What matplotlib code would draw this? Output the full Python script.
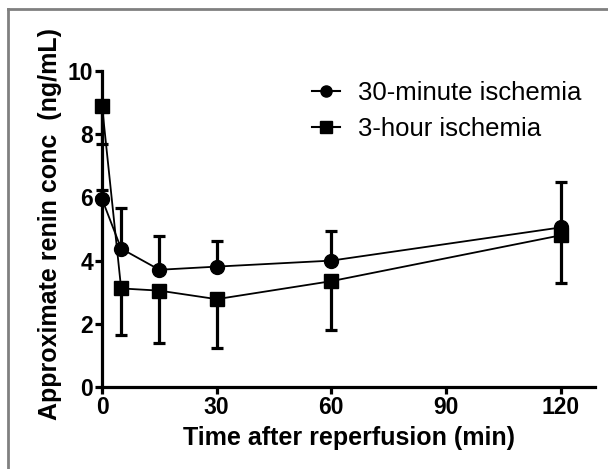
import numpy as np
import matplotlib
matplotlib.use("Agg")
import matplotlib.pyplot as plt
from matplotlib.lines import Line2D

plt.rcParams['font.family'] = ['Liberation Sans', 'DejaVu Sans']

# data
time_min = [0, 5, 15, 30, 60, 120]
ischemia_30min = [5.95, 4.38, 3.71, 3.81, 4.0, 5.05]
ischemia_30min_up = [0.3, 1.27, 1.07, 0.8, 0.95, 1.45]   # upper error only
ischemia_3h = [8.9, 3.12, 3.05, 2.78, 3.35, 4.8]
ischemia_3h_low = [1.2, 1.47, 1.65, 1.54, 1.55, 1.5]      # lower error only
xticks = [0, 30, 60, 90, 120]
yticks = [0, 2, 4, 6, 8, 10]

fig = plt.figure(figsize=(6.08, 4.69), dpi=100)
ax = fig.add_axes([0.1678, 0.1748, 0.8109, 0.6738])

# circles: upper error bars
ax.errorbar(time_min, ischemia_30min,
            yerr=[np.zeros(len(ischemia_30min_up)), ischemia_30min_up],
            fmt='-o', color='black', ms=10, lw=1.3, elinewidth=2.3,
            capsize=4, capthick=2.3, clip_on=False, zorder=3,
            label='30-minute ischemia')
# squares: lower error bars
ax.errorbar(time_min, ischemia_3h,
            yerr=[ischemia_3h_low, np.zeros(len(ischemia_3h_low))],
            fmt='-s', color='black', ms=10, lw=1.3, elinewidth=2.3,
            capsize=4, capthick=2.3, clip_on=False, zorder=3,
            label='3-hour ischemia')

ax.set_xlim(0, 129)
ax.set_ylim(0, 10)
ax.set_xticks(xticks)
ax.set_yticks(yticks)
for s in ['top', 'right']:
    ax.spines[s].set_visible(False)
for s in ['left', 'bottom']:
    ax.spines[s].set_linewidth(2.3)
ax.tick_params(width=2.3, length=5, labelsize=16.5, pad=1.5)
for lbl in ax.get_xticklabels() + ax.get_yticklabels():
    lbl.set_fontweight('bold')

ax.set_xlabel('Time after reperfusion (min)', fontsize=18, fontweight='bold', labelpad=5)
ax.set_ylabel('Approximate renin conc  (ng/mL)', fontsize=18, fontweight='bold')
ax.yaxis.set_label_coords(-0.082, 0.515)

handles = [Line2D([0], [0], color='black', marker='o', ms=8, lw=1.5),
           Line2D([0], [0], color='black', marker='s', ms=8, lw=1.5)]
ax.legend(handles, ['30-minute ischemia', '3-hour ischemia'], loc='upper left',
          bbox_to_anchor=(0.378, 1.04), frameon=False, fontsize=18.5,
          handlelength=1.1, handletextpad=0.7, labelspacing=0.45)

# gray frame of the original figure (top and left edges only visible)
fig.add_artist(Line2D([8 / 608, 8 / 608], [0, 1 - 9 / 469], color='#808080', lw=2,
                      transform=fig.transFigure))
fig.add_artist(Line2D([8 / 608, 1], [1 - 9 / 469, 1 - 9 / 469], color='#808080', lw=2,
                      transform=fig.transFigure))

fig.savefig('out.png', dpi=100)
